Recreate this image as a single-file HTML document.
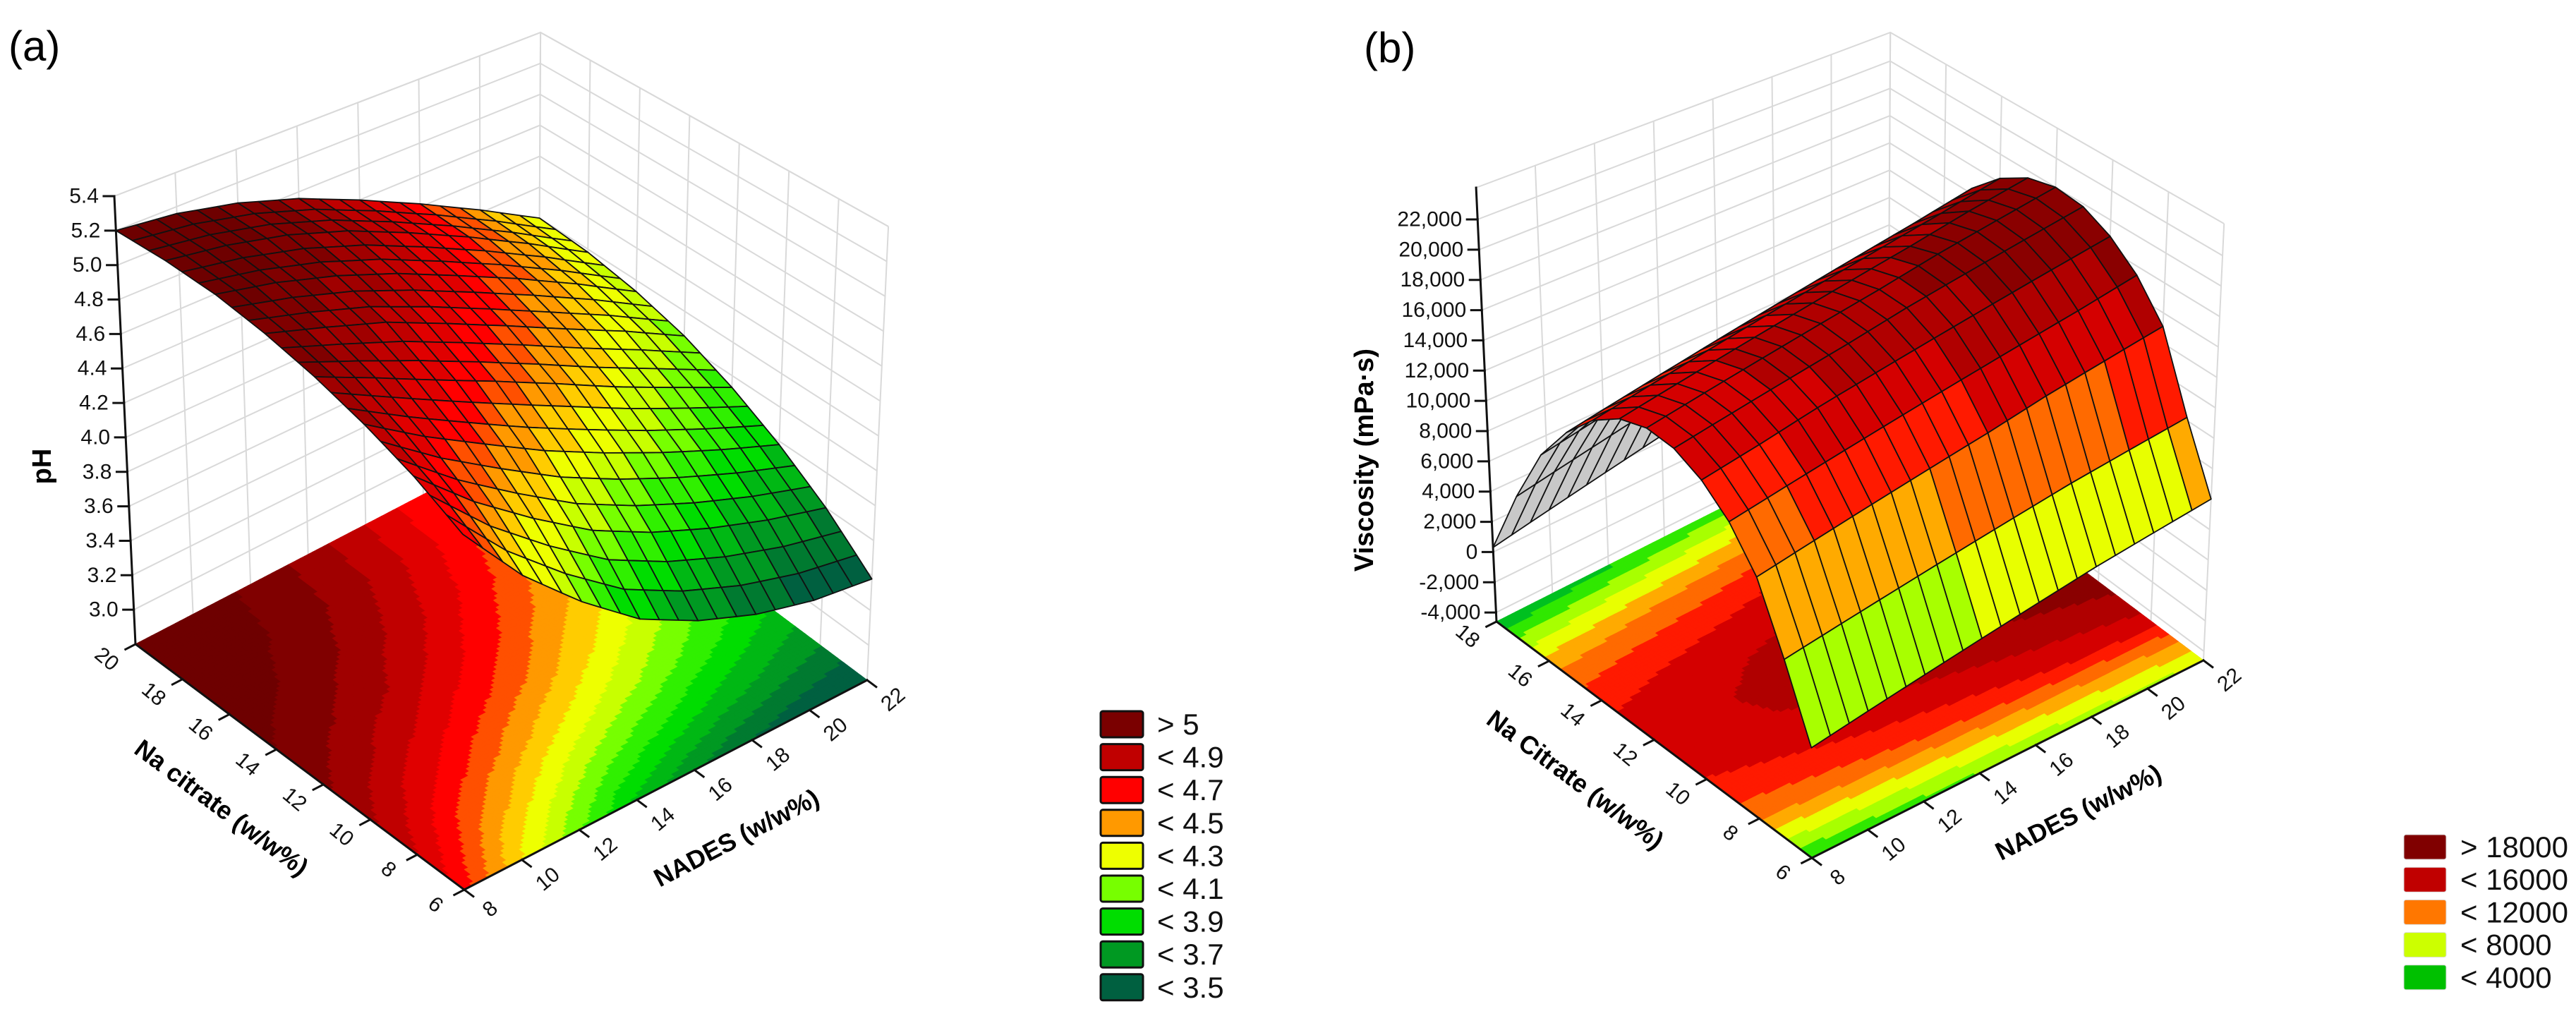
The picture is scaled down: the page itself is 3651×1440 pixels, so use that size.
<!DOCTYPE html>
<html><head><meta charset="utf-8">
<style>
html,body{margin:0;padding:0;background:#fff;}
svg{display:block;font-family:"Liberation Sans",Arial,sans-serif;}
</style></head>
<body>
<svg id="fig" width="3651" height="1440" viewBox="0 0 3651 1440">
<text x="12" y="86" font-size="60">(a)</text>
<text x="1933" y="88" font-size="60">(b)</text>
<g id="pa"></g>
<g id="pb"></g>
</svg>
<script>
// ---------- Panel (a) data: pH ----------
const phNades = [8, 10, 12, 14, 16, 18, 20, 22];
const phCitrate = [6, 8, 10, 12, 14, 16, 18, 20];
const phValues = [
  [4.65, 4.30, 4.02, 3.78, 3.62, 3.50, 3.42, 3.38],
  [4.80, 4.53, 4.30, 4.09, 3.93, 3.80, 3.69, 3.60],
  [4.92, 4.72, 4.54, 4.36, 4.20, 4.05, 3.91, 3.78],
  [5.02, 4.88, 4.73, 4.58, 4.42, 4.25, 4.09, 3.93],
  [5.10, 5.00, 4.89, 4.74, 4.58, 4.41, 4.24, 4.05],
  [5.16, 5.09, 4.99, 4.86, 4.70, 4.53, 4.34, 4.13],
  [5.19, 5.14, 5.06, 4.94, 4.78, 4.60, 4.40, 4.18],
  [5.20, 5.16, 5.08, 4.96, 4.80, 4.62, 4.42, 4.20]
];
const phZTicks = [3.0, 3.2, 3.4, 3.6, 3.8, 4.0, 4.2, 4.4, 4.6, 4.8, 5.0, 5.2, 5.4];
const phLegendLabels = ['> 5', '< 4.9', '< 4.7', '< 4.5', '< 4.3', '< 4.1', '< 3.9', '< 3.7', '< 3.5'];

// ---------- Panel (b) data: viscosity ----------
const viscNades = [8, 10, 12, 14, 16, 18, 20, 22];
const viscCitrate = [6, 7, 8, 9, 10, 11, 12, 13, 14, 15, 16, 17, 18];
const viscValues = [
  [2000, 2600, 3200, 3800, 4400, 5000, 5500, 6000],
  [6200, 6800, 7400, 8000, 8600, 9200, 9700, 10200],
  [10100, 10800, 11500, 12200, 12900, 13700, 14400, 15100],
  [12400, 13100, 13800, 14500, 15200, 15900, 16600, 17400],
  [13900, 14600, 15400, 16100, 16800, 17500, 18200, 18900],
  [14800, 15500, 16200, 16900, 17700, 18400, 19100, 19800],
  [15000, 15700, 16400, 17100, 17800, 18600, 19300, 20000],
  [14500, 15200, 15900, 16600, 17300, 18000, 18800, 19500],
  [13300, 14000, 14700, 15400, 16100, 16800, 17500, 18300],
  [11400, 12100, 12800, 13500, 14200, 14900, 15600, 16400],
  [8800, 9500, 10200, 10900, 11600, 12300, 13000, 13800],
  [4900, 5600, 6300, 7000, 7700, 8400, 9200, 9900],
  [300, 1000, 1700, 2400, 3100, 3900, 4600, 5300]
];
const viscZTicks = [-4000, -2000, 0, 2000, 4000, 6000, 8000, 10000, 12000, 14000, 16000, 18000, 20000, 22000];
const viscLegendLabels = ['> 18000', '< 16000', '< 12000', '< 8000', '< 4000'];

const NS = 'http://www.w3.org/2000/svg';
function mk(tag, parent, attrs) {
  const e = document.createElementNS(NS, tag);
  for (const k in attrs) e.setAttribute(k, attrs[k]);
  parent.appendChild(e);
  return e;
}
function bandColor(bands, low, z) {
  for (const b of bands) if (z >= b[0]) return b[1];
  return low;
}
const phBands = [[5.1,'#6e0000'],[5.0,'#800000'],[4.9,'#a00000'],[4.8,'#c00000'],[4.7,'#e00000'],[4.6,'#ff0000'],[4.5,'#ff5000'],[4.4,'#ff9900'],[4.3,'#ffcc00'],[4.2,'#eeff00'],[4.1,'#c8ff00'],[4.0,'#77ff00'],[3.9,'#30f000'],[3.8,'#00dd00'],[3.7,'#00b814'],[3.6,'#009922'],[3.5,'#007a30']];
const viscBands = [[20000,'#760000'],[18000,'#8a0000'],[16000,'#b00000'],[14000,'#d40000'],[12000,'#ff1a00'],[10000,'#ff6a00'],[8000,'#ffaa00'],[6000,'#e8ff00'],[4000,'#a8ff00'],[2000,'#30e800'],[0,'#00c020']];

function drawChart(g, cfg) {
  const F = cfg.F, R = cfg.R, L = cfg.L;
  const nx = cfg.xs.length, ny = cfg.ys.length;
  const V = cfg.vals;
  const val = (u, v) => {
    const fi = u * (nx - 1), fj = v * (ny - 1);
    const i = Math.min(Math.floor(fi), nx - 2), j = Math.min(Math.floor(fj), ny - 2);
    const a = fi - i, b = fj - j;
    return V[j][i]*(1-a)*(1-b) + V[j][i+1]*a*(1-b) + V[j+1][i]*(1-a)*b + V[j+1][i+1]*a*b;
  };
  const tz = z => (z - cfg.zmin) / (cfg.zmax - cfg.zmin);
  const P = (u, v, t) => {
    const px = F[0] + u*(R[0]-F[0]) + v*(L[0]-F[0]);
    const py = F[1] + u*(R[1]-F[1]) + v*(L[1]-F[1]);
    const H = cfg.HF - cfg.hu*u - cfg.hv*v;
    return [px + (px - cfg.cx)*cfg.k*t, py - t*H];
  };
  const uOf = n => (n - cfg.xs[0]) / (cfg.xs[nx-1] - cfg.xs[0]);
  const vOf = c => (c - cfg.ys[0]) / (cfg.ys[ny-1] - cfg.ys[0]);
  const ps = arr => arr.map(p => p[0].toFixed(1) + ',' + p[1].toFixed(1)).join(' ');

  // walls / grid
  const gw = mk('g', g, {stroke: '#d9d9d9', 'stroke-width': 2, fill: 'none'});
  
  
  const zl = cfg.zTicks.concat([cfg.zmax]);
  for (const z of zl) {
    const t = tz(z);
    const pl = mk('polyline', gw, {points: ps([P(0,1,t), P(1,1,t), P(1,0,t)])});
    
    
  }
  for (const n of cfg.xs) {
    const u = uOf(n);
    const ln = mk('polyline', gw, {points: ps([P(u,1,0), P(u,1,1)])});
    
    
  }
  for (const c of cfg.ys) {
    if (c % 2 !== 0) continue;
    const v = vOf(c);
    const ln = mk('polyline', gw, {points: ps([P(1,v,0), P(1,v,1)])});
    
    
  }

  // floor contour
  const gf = mk('g', g, {});
  
  
  const FN = cfg.floorN;
  for (let j = 0; j < FN; j++) for (let i = 0; i < FN; i++) {
    const u0 = i/FN, u1 = (i+1)/FN, v0 = j/FN, v1 = (j+1)/FN;
    const col = cfg.color(val((u0+u1)/2, (v0+v1)/2));
    const cell = mk('polygon', gf, {points: ps([P(u0,v0,0), P(u1,v0,0), P(u1,v1,0), P(u0,v1,0)]), fill: col, stroke: col, 'stroke-width': 1});
    
    
  }

  // axes
  const ga = mk('g', g, {stroke: '#111', 'stroke-width': 3, fill: 'none', 'stroke-linecap': 'square'});
  
  
  const ax1 = mk('polyline', ga, {points: ps([P(0,0,0), P(0,1,0)])});
  
  
  const ax2 = mk('polyline', ga, {points: ps([P(0,0,0), P(1,0,0)])});
  
  
  const ax3 = mk('polyline', ga, {points: ps([P(0,1,0), P(0,1,1)])});
  
  

  const norm = (a, b) => { const dx = a[0]-b[0], dy = a[1]-b[1], m = Math.hypot(dx, dy); return [dx/m, dy/m]; };
  const dC = norm(F, R), dN = norm(F, L);
  const gt = mk('g', g, {'font-size': 30, fill: '#111', 'text-anchor': 'middle'});
  
  
  for (const c of cfg.ys) {
    if (c % 2 !== 0) continue;
    const b = P(0, vOf(c), 0);
    const tk = mk('line', ga, {x1: b[0], y1: b[1], x2: b[0]+dC[0]*16, y2: b[1]+dC[1]*16});
    
    
    const lx = b[0]+dC[0]*46, ly = b[1]+dC[1]*46;
    const tx = mk('text', gt, {x: lx, y: ly, 'dominant-baseline': 'central', transform: `rotate(40 ${lx} ${ly})`});
    tx.textContent = c;
    
    
  }
  for (const n of cfg.xs) {
    const b = P(uOf(n), 0, 0);
    const tk = mk('line', ga, {x1: b[0], y1: b[1], x2: b[0]+dN[0]*16, y2: b[1]+dN[1]*16});
    
    
    const lx = b[0]+dN[0]*46, ly = b[1]+dN[1]*46;
    const tx = mk('text', gt, {x: lx, y: ly, 'dominant-baseline': 'central', transform: `rotate(-40 ${lx} ${ly})`});
    tx.textContent = n;
    
    
  }
  for (const z of cfg.zTicks) {
    const b = P(0, 1, tz(z));
    const tk = mk('line', ga, {x1: b[0], y1: b[1], x2: b[0]-15, y2: b[1]});
    
    
    const tx = mk('text', gt, {x: b[0]-22, y: b[1], 'text-anchor': 'end', 'dominant-baseline': 'central'});
    tx.textContent = cfg.fmt(z);
    
    
  }

  // axis titles
  const mC = P(0, 0.5, 0), mN = P(0.5, 0, 0);
  const cx1 = mC[0]+dC[0]*125, cy1 = mC[1]+dC[1]*125;
  const angC = Math.atan2(L[1]-F[1], L[0]-F[0]) * 180/Math.PI + 180;
  const t1 = mk('text', g, {x: cx1, y: cy1, 'font-size': 36, 'font-weight': 'bold', 'text-anchor': 'middle', 'dominant-baseline': 'central', transform: `rotate(${angC} ${cx1} ${cy1})`});
  t1.textContent = cfg.citrateTitle;
  
  
  const cx2 = mN[0]+dN[0]*125, cy2 = mN[1]+dN[1]*125;
  const angN = Math.atan2(R[1]-F[1], R[0]-F[0]) * 180/Math.PI;
  const t2 = mk('text', g, {x: cx2, y: cy2, 'font-size': 36, 'font-weight': 'bold', 'text-anchor': 'middle', 'dominant-baseline': 'central', transform: `rotate(${angN} ${cx2} ${cy2})`});
  t2.textContent = 'NADES (w/w%)';
  
  
  const t3 = mk('text', g, {x: cfg.zTitle[0], y: cfg.zTitle[1], 'font-size': 38, 'font-weight': 'bold', 'text-anchor': 'middle', 'dominant-baseline': 'central', transform: `rotate(-90 ${cfg.zTitle[0]} ${cfg.zTitle[1]})`});
  t3.textContent = cfg.zTitleText;
  
  

  // surface
  const gs = mk('g', g, {stroke: '#111', 'stroke-width': 1.8, 'stroke-linejoin': 'round'});
  
  
  const NU = (nx-1)*cfg.subU, NVv = (ny-1)*cfg.subV;
  const cells = [];
  for (let j = 0; j < NVv; j++) for (let i = 0; i < NU; i++) {
    const us = [i/NU, (i+1)/NU], vs = [j/NVv, (j+1)/NVv];
    const pts = [[us[0],vs[0]],[us[1],vs[0]],[us[1],vs[1]],[us[0],vs[1]]].map(q => P(q[0], q[1], tz(val(q[0], q[1]))));
    let area = 0;
    for (let k = 0; k < 4; k++) { const a = pts[k], b = pts[(k+1)%4]; area += a[0]*b[1] - b[0]*a[1]; }
    const zc = val((us[0]+us[1])/2, (vs[0]+vs[1])/2);
    cells.push({pts, depth: (us[0]+us[1]+vs[0]+vs[1])/2, fill: area > 0 ? '#c8c8c8' : cfg.color(zc)});
  }
  cells.sort((a, b) => b.depth - a.depth);
  for (const c of cells) {
    const pg = mk('polygon', gs, {points: ps(c.pts), fill: c.fill});
    
    
  }

  // legend
  const gl = mk('g', g, {});
  
  
  cfg.legendLabels.forEach((lab, i) => {
    const y = cfg.legY + i*cfg.legStep;
    const r = mk('rect', gl, {x: cfg.legX, y: y, width: 60, height: cfg.legH, rx: 3, fill: cfg.legColors[i], stroke: cfg.legStroke, 'stroke-width': cfg.legStrokeW});
    
    
    const t = mk('text', gl, {x: cfg.legX + 80, y: y + cfg.legH/2, 'font-size': 42, fill: '#111', 'dominant-baseline': 'central'});
    t.textContent = lab;
    
    
  });
}

drawChart(document.getElementById('pa'), {
  F: [658, 1261], R: [1229, 964], L: [192, 913], HF: 708, hu: 65, hv: 73, cx: 710, k: 0.058,
  zmin: 2.8, zmax: 5.4, xs: phNades, ys: phCitrate, vals: phValues, zTicks: phZTicks,
  fmt: z => z.toFixed(1), color: z => bandColor(phBands, '#006040', z),
  subU: 3, subV: 3, floorN: 100,
  citrateTitle: 'Na citrate (w/w%)', zTitle: [60, 661], zTitleText: 'pH',
  legendLabels: phLegendLabels,
  legColors: ['#7a0000','#c00000','#ff0000','#ff9900','#eeff00','#77ff00','#00dd00','#009922','#006040'],
  legX: 1560, legY: 1008, legStep: 46.6, legH: 37, legStroke: '#111', legStrokeW: 3
});
drawChart(document.getElementById('pb'), {
  F: [2568, 1216], R: [3123, 936], L: [2121, 881], HF: 679, hu: 60, hv: 64, cx: 2620, k: 0.058,
  zmin: -4600, zmax: 24100, xs: viscNades, ys: viscCitrate, vals: viscValues, zTicks: viscZTicks,
  fmt: z => z.toLocaleString('en-US'), color: z => bandColor(viscBands, '#008040', z),
  subU: 3, subV: 1, floorN: 100,
  citrateTitle: 'Na Citrate (w/w%)', zTitle: [1934, 652], zTitleText: 'Viscosity (mPa·s)',
  legendLabels: viscLegendLabels,
  legColors: ['#800000','#c00000','#ff7700','#ccff00','#00c000'],
  legX: 3407, legY: 1183, legStep: 46.2, legH: 35, legStroke: '#ddd', legStrokeW: 1
});
</script>
</body></html>
